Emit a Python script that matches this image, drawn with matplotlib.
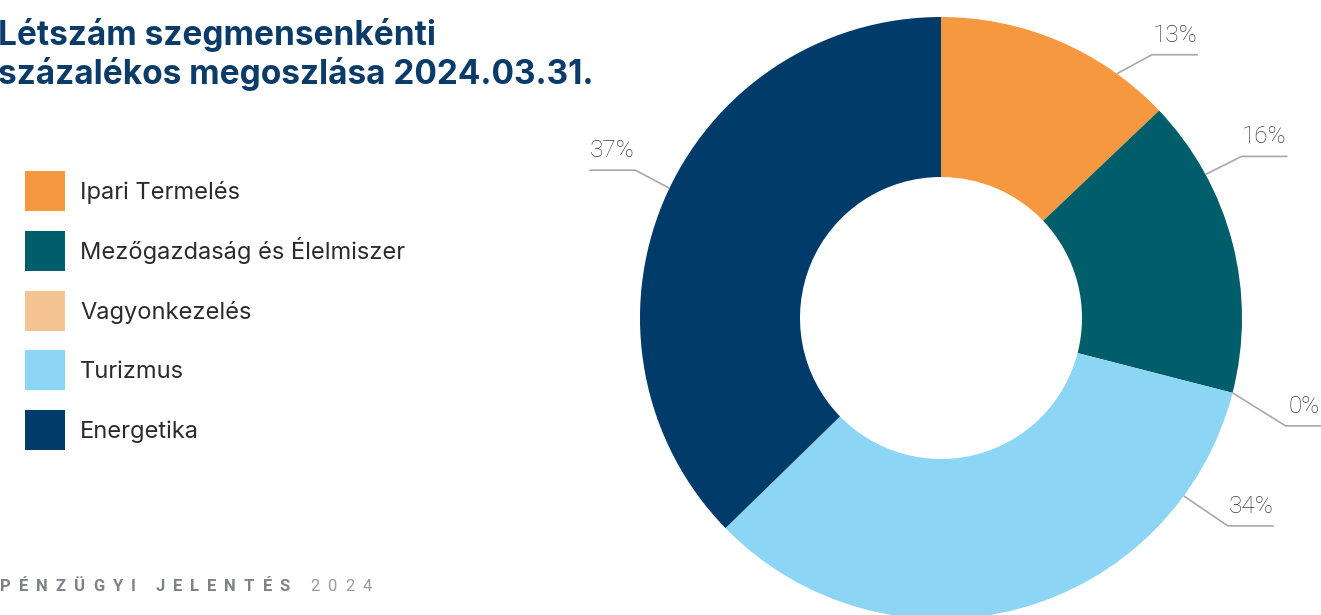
from matplotlib import pyplot as plt
from matplotlib.patches import Rectangle
import numpy as np

# Data - headcount share by segment, 2024.03.31.
segments = ['Ipari Termelés', 'Mezőgazdaság és Élelmiszer', 'Vagyonkezelés', 'Turizmus', 'Energetika']
shares = [12.9, 16.1, 0.0, 33.7, 37.3]
colors = ['#F5983F', '#005E6A', '#F6C392', '#8DD5F5', '#003B6A']

# Figure size in pixels, everything below is laid out in pixel coords (y up)
W, H = 1321, 615
fig = plt.figure(figsize=(W / 100, H / 100), dpi=100)
ax = fig.add_axes([0, 0, 1, 1])

cx, cy = 941, H - 318
R, r_in = 301, 141

wedges, _ = ax.pie(shares, colors=colors, startangle=90, counterclock=False,
                   radius=R, center=(cx, cy), frame=True,
                   wedgeprops=dict(width=R - r_in, linewidth=0))
ax.set_xlim(0, W)
ax.set_ylim(0, H)
ax.set_aspect('equal')
ax.axis('off')

# Leader lines + percent labels
# (where the line leaves the slice, as fraction of the slice going clockwise, and elbow offset)
anchor_frac = [0.77, 0.26, 0.5, 0.18, 0.52]
elbow = [(35, 19), (36, 18), (53, -33), (44, -30), (-34, 18)]
seg_len = 46
for w, v, f, (dx, dy) in zip(wedges, shares, anchor_frac, elbow):
    th = np.deg2rad(w.theta2 - f * (w.theta2 - w.theta1))
    x0, y0 = cx + R * np.cos(th), cy + R * np.sin(th)
    x1, y1 = x0 + dx, y0 + dy
    x2 = x1 + seg_len * np.sign(dx)
    ax.plot([x0, x1, x2], [y0, y1, y1], color='#A8A8A8', lw=1.2, solid_capstyle='butt', clip_on=False)
    xt = min((x1 + x2) / 2, W - 17)  # keep the 0% label inside the picture
    ax.text(xt, y1 + 8, '{}%'.format(int(round(v))), ha='center', va='bottom',
            fontsize=17.5, color='#3A3A3A', family='Roboto', fontweight='light')

# Title
ax.text(-2, H - 45, 'Létszám szegmensenkénti', fontsize=24, fontweight='bold',
        color='#0A3B69', family='Inter', va='baseline', ha='left')
ax.text(-2, H - 84, 'százalékos megoszlása 2024.03.31.', fontsize=24, fontweight='bold',
        color='#0A3B69', family='Inter', va='baseline', ha='left')

# Legend drawn by hand: 40px squares, 60px pitch
for i, (name, col) in enumerate(zip(segments, colors)):
    top = 171 + i * 59.8
    ax.add_patch(Rectangle((25, H - top - 40), 40, 40, facecolor=col, edgecolor='none'))
    ax.text(80, H - top - 28, name, fontsize=17, color='#2B2B2B', family='Inter',
            va='baseline', ha='left')

# Footer with wide letter spacing (glyph width + tracking)
footer_bold = 'PÉNZÜGYI JELENTÉS '
footer_year = '2024'
renderer = fig.canvas.get_renderer()
track = 8
xpos = 0
for i, ch in enumerate(footer_bold + footer_year):
    bold = i < len(footer_bold)
    t = ax.text(xpos, H - 591, ch, fontsize=12, ha='left', va='baseline',
                family='Roboto', fontweight='bold' if bold else 'normal',
                color='#7F8286' if bold else '#9A9C9F')
    wch = t.get_window_extent(renderer).width if ch != ' ' else 4
    xpos += wch + track

fig.savefig('out.png', dpi=100)
